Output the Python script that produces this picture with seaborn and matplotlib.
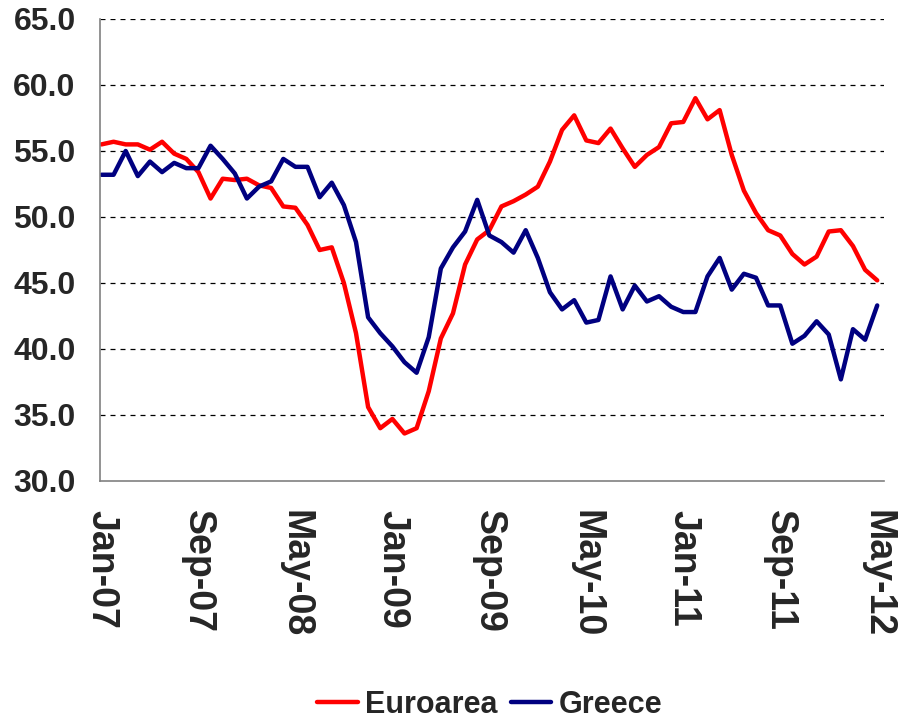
import matplotlib.pyplot as plt
import pandas as pd
import seaborn as sns

# Monthly PMI-style readings, Jan-07 .. May-12
euroarea = [55.5, 55.7, 55.5, 55.5, 55.1, 55.7, 54.8, 54.4, 53.4, 51.4,
            52.9, 52.8, 52.9, 52.4, 52.2, 50.8, 50.7, 49.4, 47.5, 47.7,
            45.0, 41.2, 35.6, 34.0, 34.7, 33.6, 34.0, 36.8, 40.8, 42.7,
            46.4, 48.3, 49.0, 50.8, 51.2, 51.7, 52.3, 54.2, 56.6, 57.7,
            55.8, 55.6, 56.7, 55.2, 53.8, 54.7, 55.3, 57.1, 57.2, 59.0,
            57.4, 58.1, 54.7, 52.0, 50.3, 49.0, 48.6, 47.2, 46.4, 47.0,
            48.9, 49.0, 47.8, 46.0, 45.2]
greece = [53.2, 53.2, 55.0, 53.1, 54.2, 53.4, 54.1, 53.7, 53.7, 55.4,
          54.4, 53.3, 51.4, 52.3, 52.7, 54.4, 53.8, 53.8, 51.5, 52.6,
          50.9, 48.1, 42.4, 41.2, 40.2, 39.0, 38.2, 40.9, 46.1, 47.7,
          48.9, 51.3, 48.6, 48.1, 47.3, 49.0, 46.9, 44.3, 43.0, 43.7,
          42.0, 42.2, 45.5, 43.0, 44.8, 43.6, 44.0, 43.2, 42.8, 42.8,
          45.5, 46.9, 44.5, 45.7, 45.4, 43.3, 43.3, 40.4, 41.0, 42.1,
          41.1, 37.7, 41.5, 40.7, 43.3]
tick_labels = ['Jan-07', 'Sep-07', 'May-08', 'Jan-09', 'Sep-09',
               'May-10', 'Jan-11', 'Sep-11', 'May-12']
y_ticks = [30, 35, 40, 45, 50, 55, 60, 65]

months = list(range(len(euroarea)))
df = pd.DataFrame({
    'month': months * 2,
    'value': euroarea + greece,
    'series': ['Euroarea'] * len(euroarea) + ['Greece'] * len(greece),
})

sns.set_style('white')
plt.rcParams['font.family'] = ['Liberation Sans', 'DejaVu Sans']

fig = plt.figure(figsize=(9, 7.2), dpi=100)
ax = fig.add_axes([100 / 900, 1 - 481 / 720, 784 / 900, 462 / 720])

sns.lineplot(data=df, x='month', y='value', hue='series',
             palette={'Euroarea': '#ff0000', 'Greece': '#000080'},
             linewidth=3.2, ax=ax, legend=True)

ax.set_xlim(-0.12, 64.56)
ax.set_ylim(30, 65)
ax.set_yticks(y_ticks)
ax.set_yticklabels([f'{v:.1f}' for v in y_ticks], fontsize=23,
                   fontweight='bold')
ax.set_xticks(range(0, 65, 8))
ax.set_xticklabels(tick_labels, rotation=-90, fontsize=27, fontweight='bold')
ax.set_xlabel('')
ax.set_ylabel('')

for v in y_ticks[1:]:
    ax.axhline(v, color='black', linestyle=(0, (4, 4)), linewidth=0.9, zorder=0)

for side in ['top', 'right']:
    ax.spines[side].set_visible(False)
for side in ['left', 'bottom']:
    ax.spines[side].set_color('#808080')
    ax.spines[side].set_linewidth(1.2)
ax.tick_params(axis='y', direction='out', length=6.5, width=1,
               color='black', pad=11)
ax.tick_params(axis='x', direction='out', length=8, width=1,
               color='#808080', pad=13)

handles, labels = ax.get_legend_handles_labels()
ax.legend(handles, labels, loc='center', bbox_to_anchor=(0.497, -0.485),
          ncol=2, frameon=False, handlelength=1.34,
          handletextpad=0.23, columnspacing=0.42,
          prop={'weight': 'bold', 'size': 22})

fig.savefig('out.png', dpi=100)
